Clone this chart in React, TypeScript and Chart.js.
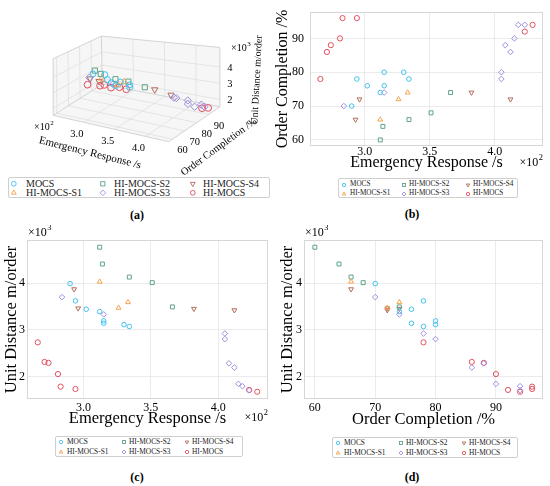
import React, { useEffect, useRef } from 'react';
import { Chart, registerables } from 'chart.js';

Chart.register(...registerables);

const FONT = '"Liberation Serif", "Times New Roman", serif';

const seriesNames = ['MOCS', 'HI-MOCS-S1', 'HI-MOCS-S2', 'HI-MOCS-S3', 'HI-MOCS-S4', 'HI-MOCS'];

// each point: [emergency response (s), order completion (%), unit distance (m/order)]
const mocsPoints = [
  [290, 70, 3990], [294, 78, 3620], [302, 76, 3440], [312, 74, 3390],
  [315, 80, 3190], [315, 76, 3140], [330, 80, 3110], [334, 78, 3070],
];
const s1Points = [[312, 66, 4030], [326, 72, 3470], [333, 74, 3590]];
const s2Points = [[312, 60, 4770], [314, 64, 4410], [334, 66, 4130], [351, 68, 4010], [366, 74, 3490]];
const s3Points = [
  [284, 70, 3700], [315, 74, 3330], [405, 78, 2920], [405, 80, 2800], [408, 88, 2280],
  [412, 86, 2190], [415, 90, 1840], [418, 94, 1790], [423, 94, 1700],
];
const s4Points = [[293, 66, 3870], [296, 72, 3460], [382, 74, 3450], [412, 72, 3420]];
const hiMocsPoints = [
  [266, 78, 2730], [271, 86, 2310], [274, 88, 2290], [281, 90, 2050],
  [283, 96, 1780], [294, 96, 1730], [423, 92, 1710], [429, 94, 1670],
];
const seriesPoints = [mocsPoints, s1Points, s2Points, s3Points, s4Points, hiMocsPoints];

const responseTicks = [300, 350, 400];
const completionTicks = [60, 70, 80, 90];
const distanceTicks = [2000, 3000, 4000];

// axis limits (2d panels and the 3d box)
const limits = [[258, 437], [58.2, 97.8], [1515, 4925]];
const limits3d = [[250, 438], [57, 99], [1550, 5200]];

const colors = ['#43c1ef', '#f3a24b', '#5fa487', '#9f8fdf', '#b06d5c', '#e4505d'];
const markers = ['circle', 'triangle', 'rect', 'rectRot', 'triangle', 'circle'];
const rotations = [0, 0, 0, 0, 180, 0];
const radii = [2.3, 2.8, 2.8, 2.8, 2.8, 2.6];

const fmt = [
  (v: number) => (v / 100).toFixed(1),
  (v: number) => String(v),
  (v: number) => String(v / 1000),
];
const tickSets = [responseTicks, completionTicks, distanceTicks];
const titles = ['Emergency Response /s', 'Order Completion /%', 'Unit Distance m/order'];

function drawPower(ctx: CanvasRenderingContext2D, exp: string, x: number, y: number, align: string, size: number) {
  ctx.save();
  ctx.fillStyle = '#000';
  ctx.textBaseline = 'middle';
  ctx.textAlign = 'left';
  ctx.font = `${size}px ${FONT}`;
  const bw = ctx.measureText('×10').width;
  ctx.font = `${size * 0.7}px ${FONT}`;
  const ew = ctx.measureText(exp).width;
  const start = align === 'left' ? x : x - bw - ew - 0.5;
  ctx.font = `${size}px ${FONT}`;
  ctx.fillText('×10', start, y);
  ctx.font = `${size * 0.7}px ${FONT}`;
  ctx.fillText(exp, start + bw + 0.5, y - size * 0.42);
  ctx.restore();
}

function framePlugin(p: any) {
  return {
    id: 'frame',
    beforeDatasetsDraw(chart: any) {
      const { ctx, chartArea: a } = chart;
      ctx.save();
      ctx.strokeStyle = '#d6d6d6';
      ctx.lineWidth = 1;
      ctx.strokeRect(a.left + 0.5, a.top + 0.5, a.right - a.left - 1, a.bottom - a.top - 1);
      ctx.restore();
    },
    afterDraw(chart: any) {
      const { ctx, chartArea: a } = chart;
      if (p.xExp) drawPower(ctx, p.xExp, a.right, a.bottom + p.xExpDy, 'right', 12);
      if (p.yExp) drawPower(ctx, p.yExp, a.left + 1, a.top - 7, 'left', 12);
    },
  };
}

function axis(k: number, cfg: any, horizontal: boolean) {
  return {
    type: 'linear',
    min: limits[k][0],
    max: limits[k][1],
    afterBuildTicks: (s: any) => { s.ticks = tickSets[k].map((v) => ({ value: v })); },
    afterFit: (s: any) => { if (horizontal) s.height = cfg.size; else s.width = cfg.size; },
    border: { display: false },
    grid: { color: '#e6e6e6', lineWidth: 0.8, drawTicks: false },
    ticks: {
      padding: cfg.tickPad,
      color: '#000',
      maxRotation: 0,
      font: { family: FONT, size: 12, lineHeight: 1 },
      callback: (v: number) => fmt[k](v),
    },
    title: {
      display: true,
      text: titles[k],
      color: '#000',
      font: { family: FONT, size: cfg.titleSize, lineHeight: 1 },
      padding: horizontal ? { top: 0, bottom: cfg.titlePad } : { top: cfg.titlePad, bottom: 0 },
    },
  };
}

function Scatter2D(p: any) {
  const ref = useRef<HTMLCanvasElement | null>(null);
  useEffect(() => {
    if (!ref.current) return;
    const chart = new Chart(ref.current, {
      type: 'scatter',
      data: {
        datasets: seriesPoints.map((pts, i) => ({
          label: seriesNames[i],
          data: pts.map((t) => ({ x: t[p.xi], y: t[p.yi] })),
          pointStyle: markers[i],
          rotation: rotations[i],
          pointRadius: radii[i],
          borderColor: colors[i],
          backgroundColor: 'rgba(0,0,0,0)',
          borderWidth: 1,
        })),
      },
      options: {
        animation: false,
        responsive: false,
        layout: { padding: p.padding },
        plugins: { legend: { display: false }, tooltip: { enabled: false } },
        scales: {
          x: axis(p.xi, p.xAxis, true),
          y: axis(p.yi, p.yAxis, false),
        },
      } as any,
      plugins: [framePlugin(p)],
    });
    return () => chart.destroy();
  }, []);
  return (
    <canvas
      ref={ref}
      width={p.w}
      height={p.h}
      style={{ position: 'absolute', left: p.x, top: p.y, width: p.w, height: p.h }}
    />
  );
}

// screen corners of the 3d box: [bottom, top] of each vertical edge
const corner = {
  a: [[50, 117], [50, 57]], // response min, completion min
  b: [[170, 145], [170, 79]], // response max, completion min
  c: [[223, 108], [223, 45]], // response max, completion max
  d: [[101, 84], [100, 33]], // response min, completion max
};

const lerp = (p: number[], q: number[], t: number) => [p[0] + (q[0] - p[0]) * t, p[1] + (q[1] - p[1]) * t];
function project(u: number, v: number, w: number) {
  const lo = lerp(lerp(corner.a[0], corner.b[0], u), lerp(corner.d[0], corner.c[0], u), v);
  const hi = lerp(lerp(corner.a[1], corner.b[1], u), lerp(corner.d[1], corner.c[1], u), v);
  return lerp(lo, hi, w);
}
const norm = (k: number, val: number) => (val - limits3d[k][0]) / (limits3d[k][1] - limits3d[k][0]);

function box3dPlugin() {
  return {
    id: 'box3d',
    beforeDatasetsDraw(chart: any) {
      const { ctx } = chart;
      const sx = chart.scales.x;
      const sy = chart.scales.y;
      const P = (u: number, v: number, w: number) => {
        const q = project(u, v, w);
        return [sx.getPixelForValue(q[0]), sy.getPixelForValue(q[1])];
      };
      const poly = (pts: number[][], fill: string) => {
        ctx.beginPath();
        pts.forEach((q, i) => (i ? ctx.lineTo(q[0], q[1]) : ctx.moveTo(q[0], q[1])));
        ctx.closePath();
        ctx.fillStyle = fill;
        ctx.fill();
      };
      const line = (p1: number[], p2: number[]) => {
        ctx.beginPath();
        ctx.moveTo(p1[0], p1[1]);
        ctx.lineTo(p2[0], p2[1]);
        ctx.stroke();
      };
      ctx.save();
      const pane = '#f6f6f6';
      poly([P(0, 0, 0), P(1, 0, 0), P(1, 1, 0), P(0, 1, 0)], pane);
      poly([P(0, 0, 0), P(0, 1, 0), P(0, 1, 1), P(0, 0, 1)], pane);
      poly([P(0, 1, 0), P(1, 1, 0), P(1, 1, 1), P(0, 1, 1)], pane);

      ctx.strokeStyle = '#e0e0e0';
      ctx.lineWidth = 0.8;
      responseTicks.forEach((t) => {
        const u = norm(0, t);
        line(P(u, 0, 0), P(u, 1, 0));
        line(P(u, 1, 0), P(u, 1, 1));
      });
      completionTicks.forEach((t) => {
        const v = norm(1, t);
        line(P(0, v, 0), P(1, v, 0));
        line(P(0, v, 0), P(0, v, 1));
      });
      distanceTicks.forEach((t) => {
        const w = norm(2, t);
        line(P(0, 0, w), P(0, 1, w));
        line(P(0, 1, w), P(1, 1, w));
      });

      ctx.strokeStyle = '#cfcfcf';
      ctx.lineWidth = 0.9;
      line(P(0, 0, 0), P(1, 0, 0));
      line(P(1, 0, 0), P(1, 1, 0));
      line(P(1, 1, 0), P(0, 1, 0));
      line(P(0, 1, 0), P(0, 0, 0));
      line(P(0, 0, 0), P(0, 0, 1));
      line(P(0, 1, 0), P(0, 1, 1));
      line(P(1, 1, 0), P(1, 1, 1));
      line(P(0, 0, 1), P(0, 1, 1));
      line(P(0, 1, 1), P(1, 1, 1));

      ctx.fillStyle = '#000';
      ctx.textAlign = 'center';
      ctx.textBaseline = 'middle';
      ctx.font = `10.5px ${FONT}`;
      responseTicks.forEach((t) => {
        const q = P(norm(0, t), 0, 0);
        ctx.fillText(fmt[0](t), q[0] - 7, q[1] + 12);
      });
      completionTicks.forEach((t) => {
        const q = P(1, norm(1, t), 0);
        ctx.fillText(fmt[1](t), q[0] + 10, q[1] + 11.5);
      });
      distanceTicks.forEach((t) => {
        const q = P(1, 1, norm(2, t));
        ctx.fillText(fmt[2](t), q[0] + 10, q[1] + 1);
      });

      const rotText = (text: string, x: number, y: number, deg: number, size: number) => {
        ctx.save();
        ctx.translate(x, y);
        ctx.rotate((deg * Math.PI) / 180);
        ctx.font = `${size}px ${FONT}`;
        ctx.fillText(text, 0, 0);
        ctx.restore();
      };
      rotText(titles[0], 90, 153, 14, 11);
      rotText(titles[1], 219, 147, -36, 10.5);
      rotText(titles[2], 257, 80, -87, 10);
      ctx.restore();
      drawPower(ctx, '2', 34, 127, 'left', 10);
      drawPower(ctx, '3', 231, 48, 'left', 10);
    },
  };
}

function Scatter3D() {
  const ref = useRef<HTMLCanvasElement | null>(null);
  useEffect(() => {
    if (!ref.current) return;
    const chart = new Chart(ref.current, {
      type: 'scatter',
      data: {
        datasets: seriesPoints.map((pts, i) => ({
          label: seriesNames[i],
          data: pts.map((t) => {
            const q = project(norm(0, t[0]), norm(1, t[1]), norm(2, t[2]));
            return { x: q[0], y: q[1] };
          }),
          pointStyle: markers[i],
          rotation: rotations[i],
          pointRadius: radii[i] * 1.3,
          borderColor: colors[i],
          backgroundColor: 'rgba(0,0,0,0)',
          borderWidth: 1,
        })),
      },
      options: {
        animation: false,
        responsive: false,
        layout: { padding: 0 },
        plugins: { legend: { display: false }, tooltip: { enabled: false } },
        scales: {
          x: { type: 'linear', display: false, min: 0, max: 275 },
          y: { type: 'linear', display: false, min: 0, max: 175, reverse: true },
        },
      } as any,
      plugins: [box3dPlugin()],
    });
    return () => chart.destroy();
  }, []);
  return (
    <canvas ref={ref} width={275} height={175} style={{ position: 'absolute', left: 0, top: 0, width: 275, height: 175 }} />
  );
}

function markerShape(i: number, cx: number, cy: number, r: number) {
  const common = { stroke: colors[i], fill: 'none', strokeWidth: 0.9 };
  const s = markers[i];
  if (s === 'circle') return <circle cx={cx} cy={cy} r={r * 0.85} {...common} />;
  if (s === 'rect') {
    const h = r * 0.75;
    return <rect x={cx - h} y={cy - h} width={2 * h} height={2 * h} {...common} />;
  }
  if (s === 'rectRot') {
    return <polygon points={`${cx},${cy - r} ${cx + r},${cy} ${cx},${cy + r} ${cx - r},${cy}`} {...common} />;
  }
  const d = rotations[i] ? -1 : 1;
  const pts = `${cx},${cy - d * r} ${cx + r * 0.87},${cy + d * r * 0.5} ${cx - r * 0.87},${cy + d * r * 0.5}`;
  return <polygon points={pts} {...common} />;
}

const legendOrder = [0, 2, 4, 1, 3, 5];

function Legend(p: any) {
  const r = p.r;
  return (
    <div
      style={{
        position: 'absolute', left: p.x, top: p.y, width: p.w, height: p.h,
        border: '1px solid #cfcfcf', borderRadius: 2, background: '#fff', boxSizing: 'border-box',
      }}
    >
      {legendOrder.map((si, k) => {
        const row = Math.floor(k / 3);
        const col = k % 3;
        return (
          <React.Fragment key={si}>
            <svg
              width={2 * r + 2}
              height={2 * r + 2}
              style={{ position: 'absolute', left: p.markX[col] - r - 1, top: p.rowY[row] - r - 1 }}
            >
              {markerShape(si, r + 1, r + 1, r)}
            </svg>
            <span
              style={{
                position: 'absolute', left: p.textX[col], top: p.rowY[row], transform: 'translateY(-50%)',
                fontSize: p.size, lineHeight: 1, whiteSpace: 'nowrap', color: '#222',
              }}
            >
              {seriesNames[si]}
            </span>
          </React.Fragment>
        );
      })}
    </div>
  );
}

function Caption({ text, x, y }: { text: string; x: number; y: number }) {
  return (
    <div style={{ position: 'absolute', left: x - 20, top: y - 7, width: 40, textAlign: 'center', fontWeight: 'bold', fontSize: 12, lineHeight: '14px' }}>
      {text}
    </div>
  );
}

export default function App() {
  const small = { size: 7.2, r: 2, markX: [5, 65, 129], textX: [11, 70, 134], rowY: [5.5, 14.5] };
  const mid = { size: 7.4, r: 2, markX: [5, 68, 131], textX: [11, 73, 136], rowY: [5, 14.5] };
  return (
    <div style={{ position: 'absolute', left: 0, top: 0, width: 550, height: 486, background: '#fff', fontFamily: FONT, overflow: 'hidden' }}>
      <Scatter3D />
      <Scatter2D
        x={275} y={0} w={275} h={173} xi={0} yi={1}
        padding={{ left: 0, right: 7, top: 5, bottom: 0 }}
        xAxis={{ size: 27, tickPad: 0, titleSize: 16, titlePad: 2 }}
        yAxis={{ size: 35, tickPad: 6, titleSize: 16, titlePad: 0 }}
        xExp="2" xExpDy={17}
      />
      <Scatter2D
        x={0} y={225} w={275} h={205} xi={0} yi={2}
        padding={{ left: 0, right: 7, top: 15, bottom: 0 }}
        xAxis={{ size: 31, tickPad: 3, titleSize: 16.5, titlePad: 3.5 }}
        yAxis={{ size: 27, tickPad: 2, titleSize: 16.5, titlePad: 3.5 }}
        xExp="2" xExpDy={19} yExp="3"
      />
      <Scatter2D
        x={275} y={225} w={275} h={205} xi={1} yi={2}
        padding={{ left: 0, right: 7, top: 15, bottom: 0 }}
        xAxis={{ size: 31, tickPad: 3, titleSize: 16.5, titlePad: 2.5 }}
        yAxis={{ size: 29, tickPad: 2, titleSize: 16.5, titlePad: 4.8 }}
        yExp="3"
      />
      <Legend x={8} y={177} w={262} h={21} size={10} r={2.8} markX={[5, 94, 184]} textX={[17, 105, 194]} rowY={[6, 14.5]} />
      <Legend x={338} y={178} w={180} h={20} {...small} />
      <Legend x={55} y={436} w={188} h={21} {...mid} />
      <Legend x={332} y={437} w={186} h={21} {...mid} />
      <Caption text="(a)" x={137} y={215} />
      <Caption text="(b)" x={412} y={214} />
      <Caption text="(c)" x={137} y={477} />
      <Caption text="(d)" x={412} y={477} />
    </div>
  );
}
